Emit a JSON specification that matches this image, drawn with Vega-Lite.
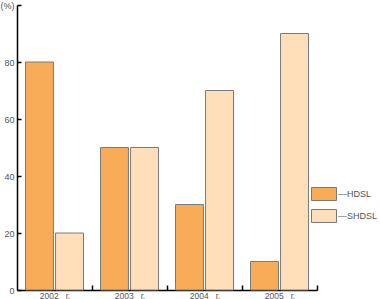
{
  "$schema": "https://vega.github.io/schema/vega-lite/v6.json",
  "autosize": {"type": "none"},
  "width": 300,
  "height": 285,
  "padding": {"left": 17, "top": 5, "right": 63, "bottom": 9},
  "background": "white",
  "config": {
    "view": {"stroke": null},
    "font": "Liberation Sans",
    "axis": {"grid": false, "domainColor": "#000", "tickColor": "#000", "labelColor": "#555", "labelFont": "Liberation Sans", "labelFontSize": 9},
    "legend": {"padding": 0}
  },
  "data": {
    "values": [
      {"year": "2002", "type": "HDSL", "value": 80},
      {"year": "2002", "type": "SHDSL", "value": 20},
      {"year": "2003", "type": "HDSL", "value": 50},
      {"year": "2003", "type": "SHDSL", "value": 50},
      {"year": "2004", "type": "HDSL", "value": 30},
      {"year": "2004", "type": "SHDSL", "value": 70},
      {"year": "2005", "type": "HDSL", "value": 10},
      {"year": "2005", "type": "SHDSL", "value": 90}
    ]
  },
  "mark": {"type": "bar", "stroke": "#7a7a7a", "strokeWidth": 1},
  "encoding": {
    "x": {
      "field": "year", "type": "nominal",
      "scale": {"paddingInner": 0.227, "paddingOuter": 0.1135},
      "axis": {
        "title": null, "labelAngle": 0, "labelExpr": "datum.label + '\u00a0\u00a0\u00a0г.'",
        "tickSize": -5, "tickOffset": 37.5, "labelOffset": -37.5, "tickWidth": 1.5, "domainWidth": 1.5,
        "labelPadding": 13, "labelFontSize": 8.5, "labelBaseline": "alphabetic"
      }
    },
    "xOffset": {"field": "type", "type": "nominal", "scale": {"paddingInner": 0.07, "paddingOuter": 0}},
    "y": {
      "field": "value", "type": "quantitative",
      "scale": {"domain": [0, 100], "nice": false},
      "axis": {
        "title": null, "values": [0, 20, 40, 60, 80, 100],
        "labelExpr": "datum.value == 100 ? '(%)' : datum.label",
        "tickSize": -4, "tickWidth": 1.5, "domainWidth": 1.5, "labelPadding": 7
      }
    },
    "fill": {
      "field": "type", "type": "nominal",
      "scale": {"domain": ["HDSL", "SHDSL"], "range": ["#F9AC57", "#FFDFBA"]},
      "legend": {
        "title": null, "orient": "none", "legendX": 294, "legendY": 176,
        "symbolType": "M-1,-0.52L1,-0.52L1,0.52L-1,0.52Z", "symbolSize": 625,
        "symbolStrokeColor": "#7a7a7a", "symbolStrokeWidth": 1, "symbolOpacity": 1,
        "labelExpr": "'—' + datum.label", "labelOffset": 1, "labelFontSize": 9, "labelColor": "#555",
        "rowPadding": -1
      }
    }
  }
}
